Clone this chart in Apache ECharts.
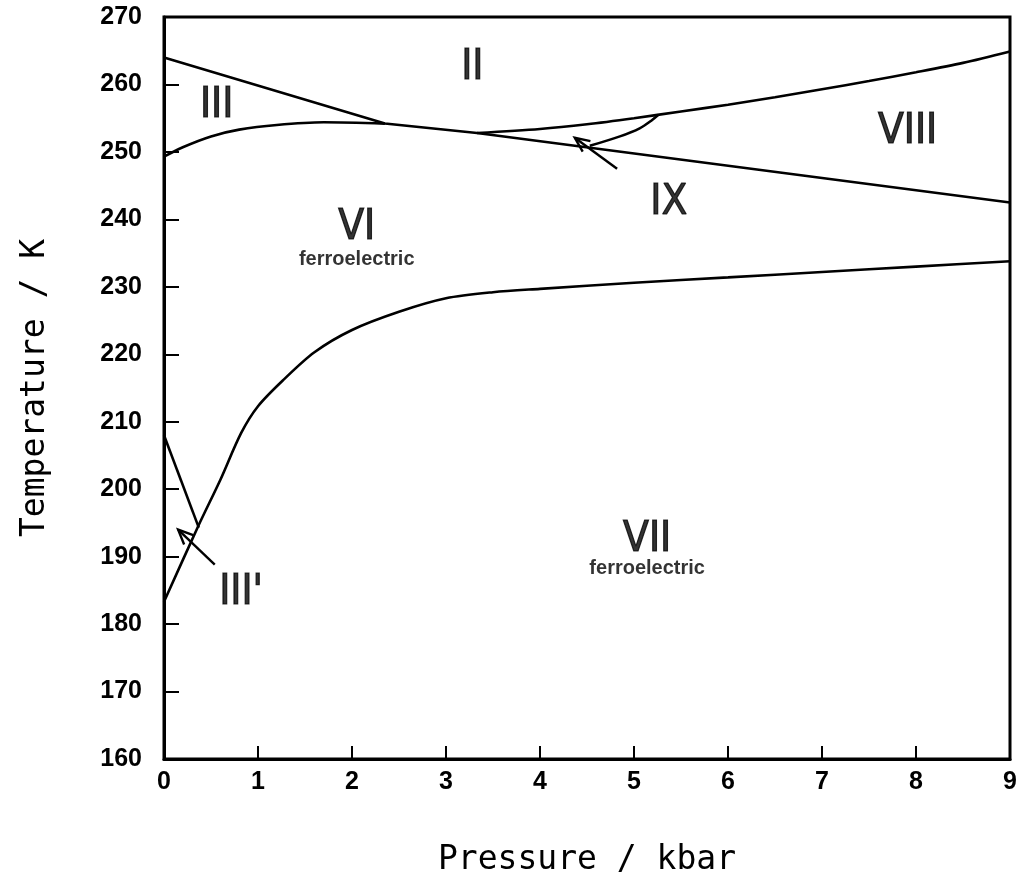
<!DOCTYPE html>
<html>
<head>
<meta charset="utf-8">
<script src="https://cdn.jsdelivr.net/npm/echarts@6/dist/echarts.min.js"></script>
<style>
  html, body { margin: 0; padding: 0; background: #fff; }
  #chart { width: 1022px; height: 886px; }
</style>
</head>
<body>
<div id="chart"></div>
<script>
// Axis ranges and ticks
const pressureTicks = [0, 1, 2, 3, 4, 5, 6, 7, 8, 9];
const temperatureTicks = [160, 170, 180, 190, 200, 210, 220, 230, 240, 250, 260, 270];

// Phase boundaries: [pressure / kbar, temperature / K]
const lineII_III_VI_VIII = [[0, 264.0], [2.35, 254.2], [3.33, 252.8], [9, 242.5]];
const curveIII_VI = [[0, 249.3], [0.2, 250.7], [0.5, 252.3], [0.8, 253.3], [1.2, 254.0], [1.7, 254.4], [2.35, 254.2]];
const curveII_VIII = [[3.33, 252.8], [4, 253.4], [4.5, 254.1], [5, 255.0], [5.5, 256.0], [6, 257.0], [6.5, 258.1],
  [7, 259.3], [7.5, 260.5], [8, 261.8], [8.5, 263.2], [9, 264.9]];
const curveIX_VIII = [[4.53, 250.9], [4.85, 252.3], [5.06, 253.5], [5.19, 254.7], [5.26, 255.5]];
const curveVI_VII = [[0, 183.3], [0.36, 194.4], [0.6, 201.4], [0.82, 208.3], [1.0, 212.3], [1.27, 216.2], [1.6, 220.3],
  [2.0, 223.6], [2.5, 226.3], [3.0, 228.3], [3.5, 229.2], [4, 229.7], [5, 230.6], [6, 231.4], [7, 232.2], [8, 233.0], [9, 233.8]];
const lineIIIprime = [[0, 208.0], [0.37, 194.3]];

// Pointer arrows: [tail P, tail T, head P, head T]
const arrows = [[4.82, 247.5, 4.37, 252.1], [0.54, 188.8, 0.15, 194.0]];

// Phase names and their positions
const phaseNames = ['II', 'III', 'VI', 'VIII', 'IX', "III'", 'VII'];
const phasePositions = [[3.28, 262.4], [0.56, 256.8], [2.05, 238.7], [7.91, 253.0], [5.37, 242.4], [0.82, 184.6], [5.14, 192.5]];
const noteText = ['ferroelectric', 'ferroelectric'];
const notePositions = [[2.05, 234.1], [5.14, 188.2]];

const chart = echarts.init(document.getElementById('chart'), null, { renderer: 'canvas' });

const tickFont = { color: '#000', fontFamily: '"Liberation Sans", Arial, sans-serif', fontWeight: 'bold', fontSize: 25 };
const nameFont = { color: '#000', fontFamily: '"DejaVu Sans Mono", monospace', fontSize: 33 };

function boundary(data, smooth) {
  return {
    type: 'line', data: data, smooth: smooth ? 0.3 : false,
    symbol: 'none', silent: true,
    lineStyle: { color: '#000', width: 2.6 }
  };
}

const option = {
  animation: false,
  backgroundColor: '#fff',
  grid: {
    left: 164, right: 12, top: 17, bottom: 127, outerBoundsMode: 'none',
    show: true, borderColor: '#000', borderWidth: 3
  },
  xAxis: {
    type: 'value', min: pressureTicks[0], max: pressureTicks[pressureTicks.length - 1], interval: 1,
    name: 'Pressure / kbar', nameLocation: 'middle', nameGap: 85, nameTextStyle: nameFont,
    axisLine: { show: true, lineStyle: { color: '#000', width: 3 } },
    axisTick: { show: true, inside: true, length: 13, lineStyle: { color: '#000', width: 2 } },
    axisLabel: Object.assign({ margin: 11 }, tickFont),
    splitLine: { show: false }
  },
  yAxis: {
    type: 'value', min: temperatureTicks[0], max: temperatureTicks[temperatureTicks.length - 1], interval: 10,
    name: 'Temperature / K', nameLocation: 'middle', nameRotate: 90, nameGap: 112, nameTextStyle: nameFont,
    axisLine: { show: true, lineStyle: { color: '#000', width: 3 } },
    axisTick: { show: true, inside: true, length: 15, lineStyle: { color: '#000', width: 2 } },
    axisLabel: Object.assign({ margin: 22 }, tickFont),
    splitLine: { show: false }
  },
  series: [
    boundary(lineII_III_VI_VIII, false),
    boundary(curveIII_VI, true),
    boundary(curveII_VIII, true),
    boundary(curveIX_VIII, true),
    boundary(curveVI_VII, true),
    boundary(lineIIIprime, false),
    {
      type: 'custom', silent: true, data: arrows,
      encode: { x: [0, 2], y: [1, 3] },
      renderItem: function (params, api) {
        const a = api.coord([api.value(0), api.value(1)]);
        const b = api.coord([api.value(2), api.value(3)]);
        const ang = Math.atan2(b[1] - a[1], b[0] - a[0]);
        const len = 16, spread = 0.42;
        const l = [b[0] - len * Math.cos(ang - spread), b[1] - len * Math.sin(ang - spread)];
        const r = [b[0] - len * Math.cos(ang + spread), b[1] - len * Math.sin(ang + spread)];
        const st = { stroke: '#000', lineWidth: 2.4, fill: null };
        return {
          type: 'group', children: [
            { type: 'line', shape: { x1: a[0], y1: a[1], x2: b[0], y2: b[1] }, style: st },
            { type: 'polyline', shape: { points: [l, b, r] }, style: st }
          ]
        };
      }
    },
    {
      type: 'scatter', silent: true, symbolSize: 0,
      data: phaseNames.map((n, i) => ({ name: n, value: phasePositions[i] })),
      label: {
        show: true, position: 'inside', formatter: '{b}', color: '#000',
        fontFamily: '"Liberation Sans Narrow", "DejaVu Sans Condensed", "Liberation Sans", sans-serif',
        fontSize: 42, textBorderColor: '#000', textBorderWidth: 1.2
      }
    },
    {
      type: 'scatter', silent: true, symbolSize: 0,
      data: noteText.map((n, i) => ({ name: n, value: notePositions[i] })),
      label: {
        show: true, position: 'inside', formatter: '{b}', color: '#000',
        fontFamily: '"Liberation Sans", Arial, sans-serif', fontWeight: 'bold', fontSize: 20
      }
    }
  ]
};

chart.setOption(option);
</script>
</body>
</html>
